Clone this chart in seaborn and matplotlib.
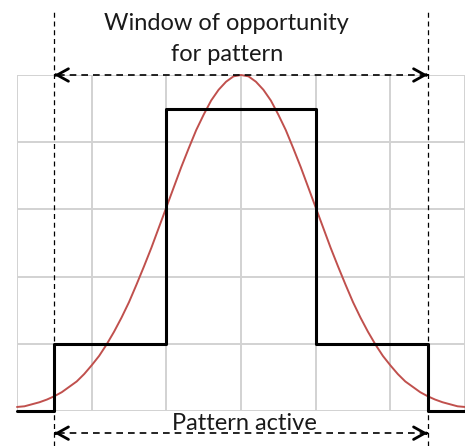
import numpy as np
import pandas as pd
import seaborn as sns
import matplotlib.pyplot as plt

sns.set_style("white")
plt.rcParams['font.family'] = ['Lato', 'DejaVu Sans']

# Bell curve (x in grid units, centre = 0)
curve_x = [round(-3 + 0.1 * i, 1) for i in range(61)]
curve_y = [0.06, 0.07, 0.10, 0.13, 0.17, 0.22, 0.28, 0.36, 0.44, 0.55,
           0.68, 0.82, 0.99, 1.18, 1.39, 1.62, 1.88, 2.15, 2.43, 2.73,
           3.03, 3.33, 3.63, 3.91, 4.18, 4.41, 4.62, 4.78, 4.90, 4.98,
           5.00,
           4.98, 4.90, 4.78, 4.62, 4.41, 4.18, 3.91, 3.63, 3.33, 3.03,
           2.73, 2.43, 2.15, 1.88, 1.62, 1.39, 1.18, 0.99, 0.82, 0.68,
           0.55, 0.44, 0.36, 0.28, 0.22, 0.17, 0.13, 0.10, 0.07, 0.06]

# Step ("pattern active") function
step_x = [-3, -2.5, -1, 1, 2.5, 3]
step_y = [0, 1, 4.5, 1, 0, 0]

window_edges = [-2.5, 2.5]
title_lines = ["Window of opportunity", "for pattern"]
bottom_label = "Pattern active"

curve_df = pd.DataFrame({"x": curve_x, "y": curve_y})
step_df = pd.DataFrame({"x": step_x, "y": step_y})

fig = plt.figure(figsize=(4.65, 4.46), dpi=100)
ax = fig.add_axes([17 / 465, 35 / 446, 448 / 465, 336 / 446])
ax.set_xlim(-3, 2.973)
ax.set_ylim(0, 5)
ax.set_xticks(np.arange(-3, 3.1, 1))
ax.set_yticks(np.arange(0, 6, 1))
ax.grid(True, color='#d2d2d2', lw=1.4)
ax.set_axisbelow(True)
ax.tick_params(length=0, labelbottom=False, labelleft=False)
for s in ax.spines.values():
    s.set_visible(False)

sns.lineplot(data=curve_df, x="x", y="y", color='#C0504D', lw=1.4, ax=ax,
             clip_on=False)
sns.lineplot(data=step_df, x="x", y="y", drawstyle='steps-post', color='black',
             lw=2.2, ax=ax, clip_on=False)
ax.set_xlabel("")
ax.set_ylabel("")

dash = (0, (4, 3))
for xe in window_edges:
    ax.plot([xe, xe], [-0.52, 5.97], ls=dash, lw=0.9, color='black', clip_on=False)

for yy in [5.0, -0.33]:
    ax.plot([window_edges[0] + 0.05, window_edges[1] - 0.05], [yy, yy], ls=dash,
            lw=1.2, color='black', clip_on=False)
    for xe, d in [(window_edges[0], 0.02), (window_edges[1], -0.02)]:
        ax.annotate('', xy=(xe, yy), xytext=(xe + d, yy),
                    arrowprops=dict(arrowstyle='->,head_length=0.45,head_width=0.25',
                                    lw=2, color='black', shrinkA=0, shrinkB=0,
                                    mutation_scale=18),
                    annotation_clip=False)

ax.text(-0.19, (411 - 30) / 67.2, title_lines[0], ha='center', va='baseline',
        fontsize=17, color='#1a1a1a')
ax.text(-0.19, (411 - 61) / 67.2, title_lines[1], ha='center', va='baseline',
        fontsize=17, color='#1a1a1a')
ax.text(0.05, (411 - 430) / 67.2, bottom_label, ha='center', va='baseline',
        fontsize=17, color='#1a1a1a')

fig.savefig("out.png", dpi=100)
